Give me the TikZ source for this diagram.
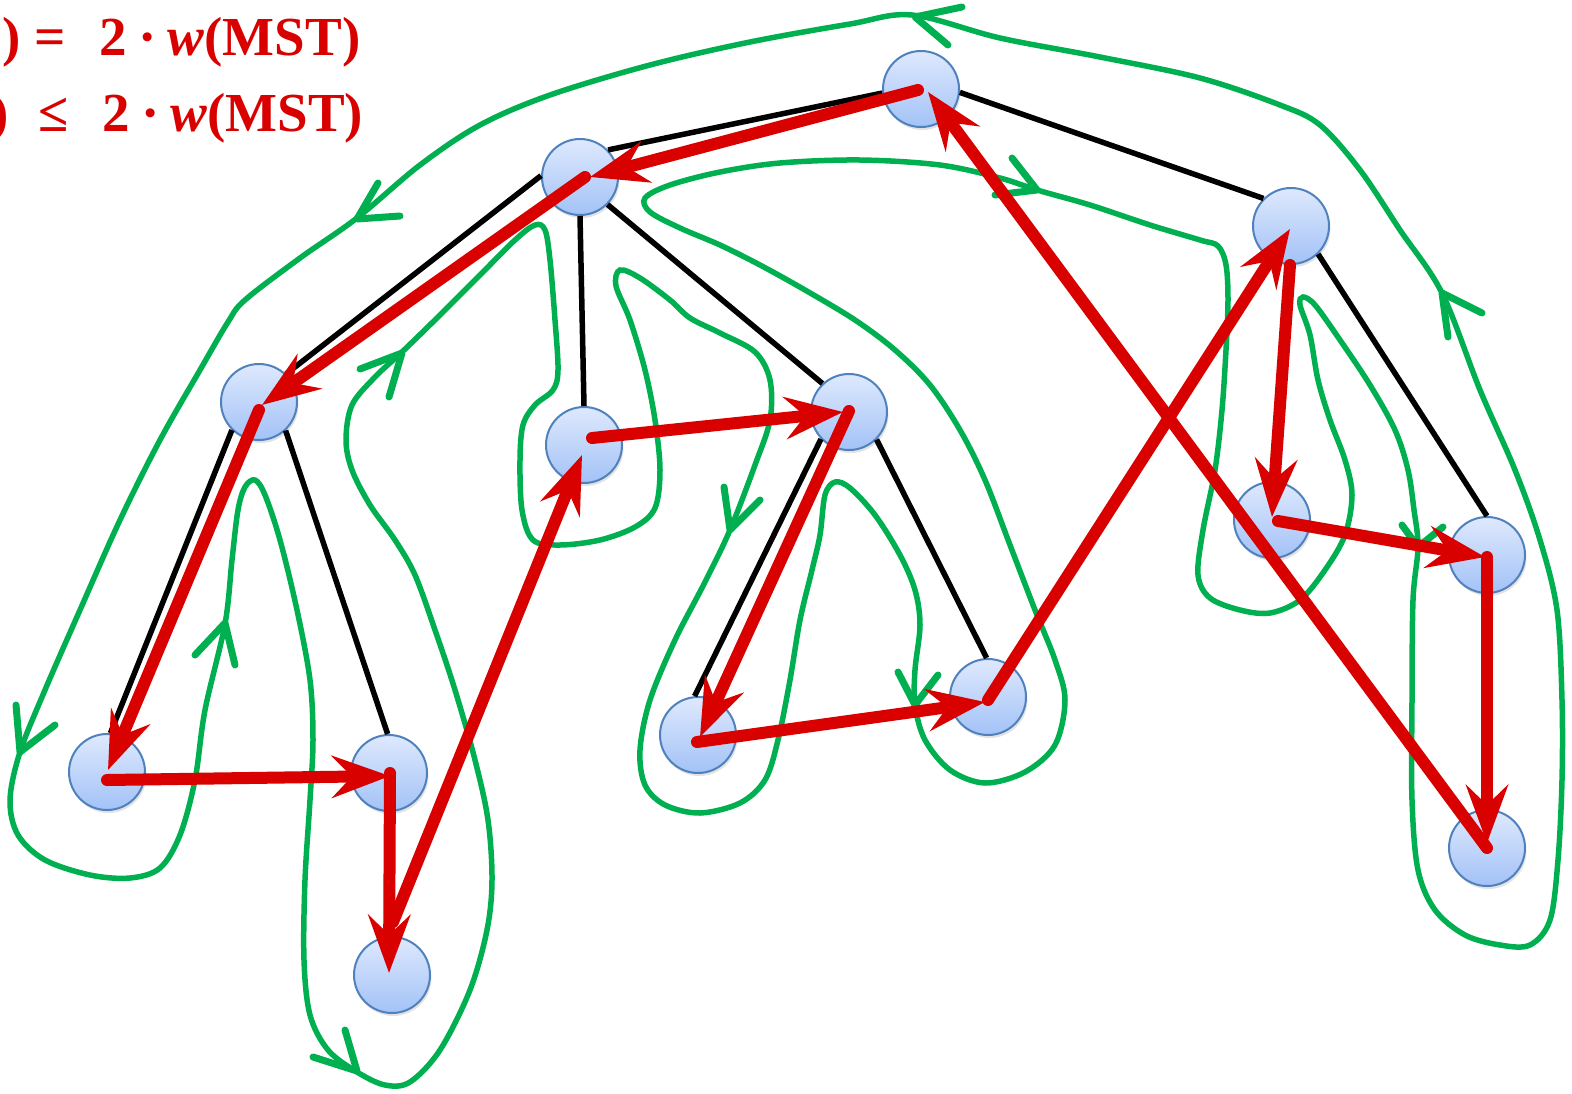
\documentclass[tikz,border=0pt]{standalone}
\usepackage{fontspec}
\setmainfont{Liberation Serif}
\usetikzlibrary{arrows.meta,shadows}
\definecolor{tourred}{RGB}{217,0,0}
\definecolor{walkgreen}{RGB}{0,176,80}
\definecolor{nodeborder}{RGB}{79,129,189}
\definecolor{nodetop}{RGB}{222,233,253}
\definecolor{nodebot}{RGB}{163,194,247}
\tikzset{
  vert/.style={circle, minimum size=76pt, inner sep=0pt, draw=nodeborder, line width=2pt,
    top color=nodetop, bottom color=nodebot,
    drop shadow={shadow xshift=1.5pt, shadow yshift=-3pt, opacity=0.22}},
  treeedge/.style={black, line width=5.5pt},
  tourarrow/.style={tourred, line width=12pt, line cap=round,
    -{Stealth[length=58pt, width=42pt, inset=20pt]}},
  walkline/.style={walkgreen, line width=5.5pt},
  walkhead/.style={walkgreen, line width=7pt, line cap=round, line join=round},
  lbl/.style={text=tourred, font=\fontsize{55}{62}\selectfont\bfseries, inner sep=0pt}
}
\begin{document}
\begin{tikzpicture}[x=1pt, y=-1pt]
\useasboundingbox (0,0) rectangle (1572,1093);

% walk around the tree
\draw[walkline] plot[smooth cycle, tension=0.55] coordinates {
(912,15) (850,24) (750,42) (650,65) (550,95) (480,125) (420,165) (357,218) (300,258) (245,300)
(228,322) (200,370) (160,440) (120,520) (80,610) (45,690) (20,752) (10,800) (18,835) (45,860)
(90,875) (130,878) (160,868) (180,835) (195,780) (205,710) (225,624) (232,560) (238,510) (245,487)
(255,480) (265,495) (280,540) (297,610) (310,680) (313,740) (310,800) (305,880) (304,960) (310,1015)
(328,1050) (357,1072) (385,1085) (410,1082) (440,1050) (470,990) (487,930) (492,880) (488,820)
(475,760) (455,690) (435,630) (415,575) (395,540) (370,505) (352,470) (346,440) (352,405)
(375,377) (402,352) (440,315) (480,275) (515,240) (535,225) (545,230) (550,260) (555,320)
(558,370) (553,390) (535,405) (523,425) (520,460) (522,510) (533,540) (560,545) (600,540)
(635,527) (655,508) (660,470) (655,420) (645,370) (630,320) (616,286) (620,270) (640,278)
(670,300) (690,318) (720,333) (755,352) (770,380) (770,420) (755,465) (730,530) (705,582)
(675,640) (650,700) (640,750) (645,785) (665,805) (700,813) (740,803) (765,780) (778,740)
(790,680) (800,620) (812,570) (820,535) (825,495) (835,482) (850,488) (875,515) (900,555)
(915,590) (920,625) (915,670) (915,705) (925,740) (950,770) (985,783) (1025,772) (1055,745)
(1065,700) (1055,660) (1035,610) (1010,545) (985,480) (960,430) (930,385) (895,350) (855,320)
(805,290) (760,265) (720,245) (680,228) (650,212) (645,198) (670,185) (720,172) (780,163)
(860,160) (940,165) (1000,178) (1037,190) (1090,205) (1150,225) (1200,240) (1218,246)
(1226,265) (1228,300) (1226,350) (1222,410) (1215,470) (1203,530) (1198,575) (1210,598)
(1240,610) (1270,613) (1300,600) (1325,570) (1345,535) (1352,495) (1345,460) (1330,420)
(1318,380) (1310,335) (1300,305) (1303,297) (1315,305) (1340,340) (1370,385) (1395,430)
(1408,470) (1414,510) (1418,547) (1413,600) (1412,700) (1412,800) (1418,870) (1435,910)
(1465,935) (1500,945) (1530,945) (1550,920) (1558,860) (1562,780) (1562,700) (1557,610)
(1540,540) (1515,470) (1480,390) (1442,293) (1400,230) (1360,170) (1320,125) (1280,105)
(1200,78) (1100,57) (1000,38)
};
% walk direction marks
\draw[walkhead] (962,7) -- (915,17) -- (948,45);
\draw[walkhead] (378,183) -- (357,219) -- (400,216);
\draw[walkhead] (16,705) -- (20,752) -- (55,725);
\draw[walkhead] (195,655) -- (225,623) -- (235,665);
\draw[walkhead] (345,1030) -- (357,1071) -- (313,1057);
\draw[walkhead] (360,369) -- (402,353) -- (389,397);
\draw[walkhead] (724,487) -- (730,530) -- (760,500);
\draw[walkhead] (898,672) -- (915,705) -- (938,675);
\draw[walkhead] (1012,158) -- (1037,190) -- (995,195);
\draw[walkhead] (1402,525) -- (1418,547) -- (1443,527);
\draw[walkhead] (1448,337) -- (1442,293) -- (1482,313);

% vertices
\node[vert] (A) at (921,89) {};
\node[vert] (B) at (580,177) {};
\node[vert] (C) at (1291,226) {};
\node[vert] (D) at (259,402) {};
\node[vert] (E) at (584,445) {};
\node[vert] (F) at (849,412) {};
\node[vert] (G) at (107,772) {};
\node[vert] (H) at (389,773) {};
\node[vert] (I) at (392,975) {};
\node[vert] (J) at (698,735) {};
\node[vert] (K) at (988,697) {};
\node[vert] (L) at (1272,520) {};
\node[vert] (M) at (1487,555) {};
\node[vert] (N) at (1487,848) {};

% tree edges
\draw[treeedge] (B.44) -- (A.186);
\draw[treeedge] (A.-5) -- (C.135);
\draw[treeedge] (B.178) -- (D.46);
\draw[treeedge] (B.-90) -- (E.90);
\draw[treeedge] (B.-45) -- (F.133);
\draw[treeedge] (D.226) -- (G.85);
\draw[treeedge] (D.-47) -- (H.92);
\draw[treeedge] (F.224) -- (J.95);
\draw[treeedge] (F.-45) -- (K.92);
\draw[treeedge] (C.-46) -- (M.90);

% tour
\draw[tourarrow] ([shift={(-3,1)}]A.center) -- ([shift={(10,0)}]B.center);
\draw[tourarrow] ([shift={(5,0)}]B.center) -- ([shift={(3,3)}]D.center);
\draw[tourarrow] ([shift={(0,8)}]D.center) -- ([shift={(1,-2)}]G.center);
\draw[tourarrow] ([shift={(0,8)}]G.center) -- ([shift={(1,3)}]H.center);
\draw[tourarrow] ([shift={(1,0)}]H.center) -- ([shift={(-3,-2)}]I.center);
\draw[tourarrow] ([shift={(1,-53)}]I.center) -- ([shift={(-2,10)}]E.center);
\draw[tourarrow] ([shift={(8,-7)}]E.center) -- ([shift={(-6,0)}]F.center);
\draw[tourarrow] ([shift={(0,-1)}]F.center) -- ([shift={(2,2)}]J.center);
\draw[tourarrow] ([shift={(-1,7)}]J.center) -- ([shift={(-3,5)}]K.center);
\draw[tourarrow] ([shift={(0,3)}]K.center) -- ([shift={(-1,3)}]C.center);
\draw[tourarrow] ([shift={(-1,39)}]C.center) -- ([shift={(0,-3)}]L.center);
\draw[tourarrow] ([shift={(6,1)}]L.center) -- ([shift={(-2,2)}]M.center);
\draw[tourarrow] ([shift={(0,2)}]M.center) -- ([shift={(0,-5)}]N.center);
\draw[tourarrow] (N.center) -- ([shift={(7,3)}]A.center);

% labels
\node[lbl, anchor=base west] (t1) at (2,55) {)\hspace{14pt}=\hspace{34pt}2\hspace{11pt}·\hspace{11pt}\textit{w}(MST)};
\node[lbl, anchor=base west] (t2) at (-10,131) {)\hspace{30pt}≤\hspace{34pt}2\hspace{11pt}·\hspace{11pt}\textit{w}(MST)};
\end{tikzpicture}
\end{document}
